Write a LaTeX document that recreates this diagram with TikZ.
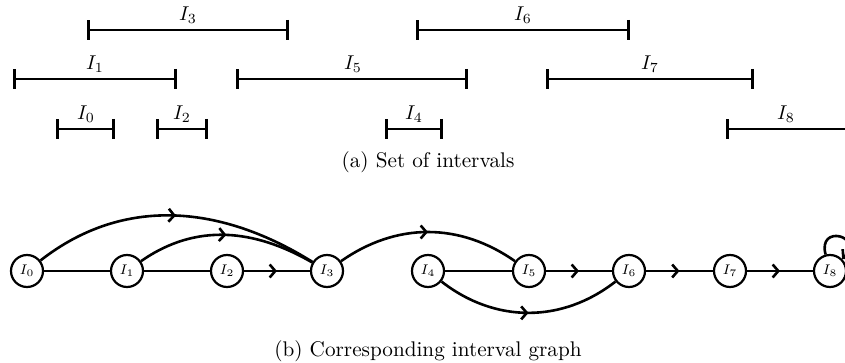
\documentclass[tikz,border=0pt]{standalone}
\usetikzlibrary{arrows.meta,decorations.markings}
\begin{document}
\begin{tikzpicture}[x=0.5pt,y=0.5pt,
  ivl/.style={line width=1.35pt,{Bar[width=10pt]}-{Bar[width=10pt]}},
  ivlopen/.style={line width=1.35pt,{Bar[width=10pt]}-},
  ilab/.style={inner sep=0pt,font=\normalsize},
  vert/.style={circle,draw,line width=1.1pt,minimum size=16pt,inner sep=0pt,font=\scriptsize},
  ed/.style={line width=1.3pt},
  tipb/.tip={Straight Barb[length=2.8pt,width=6.5pt,line width=1.3pt]},
  midarrow/.style={postaction={decorate},decoration={markings,mark=at position 0.5 with {\arrow{tipb}}}},
  captext/.style={inner sep=0pt,font=\fontsize{10.6}{13}\selectfont}]
\useasboundingbox (0,0) rectangle (845,-363);
% intervals
\coordinate (a3) at (87,-30);  \coordinate (b3) at (289,-30);
\coordinate (a6) at (416,-30); \coordinate (b6) at (630,-30);
\coordinate (a1) at (13,-79);  \coordinate (b1) at (177,-79);
\coordinate (a5) at (236,-79); \coordinate (b5) at (468,-79);
\coordinate (a7) at (546,-79); \coordinate (b7) at (754,-79);
\coordinate (a0) at (56,-129); \coordinate (b0) at (115,-129);
\coordinate (a2) at (156,-129); \coordinate (b2) at (208,-129);
\coordinate (a4) at (385,-129); \coordinate (b4) at (443,-129);
\coordinate (a8) at (726,-129); \coordinate (b8) at (846,-129);
\draw[ivl] (a3) -- (b3);
\draw[ivl] (a6) -- (b6);
\draw[ivl] (a1) -- (b1);
\draw[ivl] (a5) -- (b5);
\draw[ivl] (a7) -- (b7);
\draw[ivl] (a0) -- (b0);
\draw[ivl] (a2) -- (b2);
\draw[ivl] (a4) -- (b4);
\draw[ivlopen] (a8) -- (b8);
\node[ilab] (l3) at (188,-15) {$I_3$};
\node[ilab] (l6) at (523,-15) {$I_6$};
\node[ilab] (l1) at (95,-64) {$I_1$};
\node[ilab] (l5) at (353,-64) {$I_5$};
\node[ilab] (l7) at (650,-64) {$I_7$};
\node[ilab] (l0) at (86,-114) {$I_0$};
\node[ilab] (l2) at (182,-114) {$I_2$};
\node[ilab] (l4) at (414,-114) {$I_4$};
\node[ilab] (l8) at (786,-114) {$I_8$};
\node[captext] (capa) at (428,-162) {(a) Set of intervals};
% graph
\node[vert] (i0) at (27,-271) {$I_0$};
\node[vert] (i1) at (127,-271) {$I_1$};
\node[vert] (i2) at (227,-271) {$I_2$};
\node[vert] (i3) at (327,-271) {$I_3$};
\node[vert] (i4) at (428,-271) {$I_4$};
\node[vert] (i5) at (529,-271) {$I_5$};
\node[vert] (i6) at (629,-271) {$I_6$};
\node[vert] (i7) at (730,-271) {$I_7$};
\node[vert] (i8) at (830,-271) {$I_8$};
\draw[ed] (i0) -- (i1);
\draw[ed] (i1) -- (i2);
\draw[ed,midarrow] (i2) -- (i3);
\draw[ed] (i4) -- (i5);
\draw[ed,midarrow] (i5) -- (i6);
\draw[ed,midarrow] (i6) -- (i7);
\draw[ed,midarrow] (i7) -- (i8);
\draw[ed,midarrow] (i0) to[out=38,in=148] (i3);
\draw[ed,midarrow] (i1) to[out=35,in=150] (i3);
\draw[ed,midarrow] (i3) to[out=35,in=145] (i5);
\draw[ed,midarrow] (i4) to[out=-38,in=-142] (i6);
\path (i8) edge[ed,-tipb,out=105,in=45,loop,min distance=16pt] (i8);
\node[captext] (capb) at (428,-351) {(b) Corresponding interval graph};
\end{tikzpicture}
\end{document}
